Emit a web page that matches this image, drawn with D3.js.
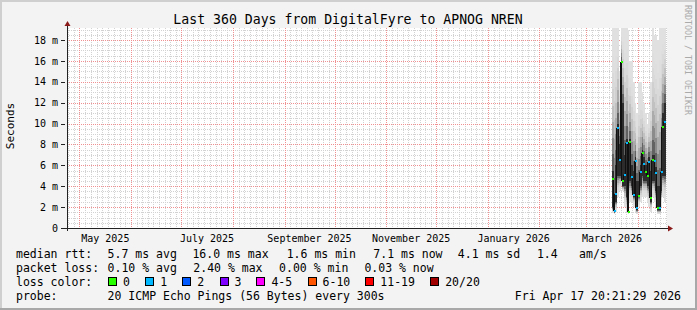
<!DOCTYPE html>
<html>
<head>
<meta charset="utf-8">
<script src="https://cdn.jsdelivr.net/npm/d3@7/dist/d3.min.js"></script>
<style>
body { margin: 0; background: #fff; }
text { font-family: "DejaVu Sans Mono", monospace; fill: #000; }
</style>
</head>
<body>
<svg id="chart" width="697" height="310"></svg>
<script>
// one sample every 25h, starting mid March 2026
let sampleStart = new Date(2026, 2, 16, 12);
let sampleHours = 25;

// median rtt (ms) and lost pings out of 20 for each sample
let medianRtt = [4.72, 1.65, 3.25, 9.6, 6.5, 15.9, 4.5, 5.1, 8.1, 1.56, 8.2, 4.9, 3.2, 6.45, 1.95, 3.1,
                 5.4, 7.15, 6.1, 5.4, 5.0, 6.35, 2.9, 6.5, 6.45, 5.3, 1.95, 1.95, 5.4, 9.7, 10.15];
let lossCount = [0, 1, 1, 1, 1, 0, 0, 1, 1, 0, 0, 1, 1, 1, 1, 0, 1, 0, 1, 0, 0, 1, 0, 0, 1, 1, 0, 1, 1, 0, 1];

// smoke: lowest ping, dense core low/high, highest ping (ms)
let pingMin  = [1.4, 1.3, 1.5, 3.0, 3.5, 4.0, 3.5, 2.0, 1.5, 1.3, 2.5, 2.5, 2.0, 1.5, 1.3, 2.0,
                2.5, 3.0, 3.0, 3.0, 2.5, 2.0, 1.5, 3.0, 2.5, 2.0, 1.3, 1.3, 2.0, 3.0, 2.5];
let darkLow  = [2.0, 1.5, 2.5, 5.0, 5.0, 6.0, 4.0, 4.0, 3.0, 1.5, 4.5, 4.0, 3.0, 3.0, 1.7, 3.0,
                4.0, 5.0, 4.5, 4.5, 4.0, 4.0, 2.5, 4.5, 4.5, 3.5, 1.7, 1.7, 3.5, 5.0, 5.0];
let darkHigh = [5.5, 3.0, 6.0, 10.0, 8.0, 16.0, 12.0, 7.0, 8.5, 5.0, 8.5, 6.0, 5.5, 6.8, 4.5, 4.5,
                6.0, 7.5, 6.8, 6.0, 5.8, 6.8, 5.5, 7.0, 7.0, 5.8, 4.0, 4.0, 8.0, 11.0, 12.0];
let pingMax  = [19.5, 19.5, 19.5, 19.5, 15.0, 19.5, 19.5, 19.5, 19.5, 19.0, 16.0, 16.0, 14.0, 12.0, 11.0, 14.0,
                14.0, 13.0, 12.0, 11.0, 10.0, 11.0, 14.0, 19.5, 18.5, 18.5, 18.0, 19.5, 19.5, 19.5, 19.5];

let yTicks = [0, 2, 4, 6, 8, 10, 12, 14, 16, 18];
let lossLabels = ['0', '1', '2', '3', '4-5', '6-10', '11-19', '20/20'];
let lossColors = ['#26ff00', '#00b8ff', '#0059ff', '#7e00ff', '#ff00ff', '#ff5500', '#ff0000', '#a10000'];

let rttStats = ['5.7 ms avg', '16.0 ms max', '1.6 ms min', '7.1 ms now', '4.1 ms sd', '1.4', 'am/s'];
let lossStats = ['0.10 % avg', '2.40 % max', '0.00 % min', '0.03 % now'];
let probeText = '20 ICMP Echo Pings (56 Bytes) every 300s';
let stampText = 'Fri Apr 17 20:21:29 2026';
let titleText = 'Last 360 Days from DigitalFyre to APNOG NREN';

// layout
let W = 697, H = 310;
let plotL = 67, plotR = 667, plotT = 28, plotB = 228;
let rttX = [107.6, 192.4, 286.7, 373.3, 457.8, 536.9, 579.1];
let lossX = [107.6, 193.3, 279.1, 364.4];
let swatchX = [108, 145.3, 182.2, 219.6, 256.4, 307.6, 365.3, 430.2];

let svg = d3.select('#chart');

let x = d3.scaleTime()
    .domain([new Date(2025, 3, 23, 12), new Date(2026, 3, 18, 12)])
    .range([plotL, plotR]);
let y = d3.scaleLinear().domain([0, 19.15]).range([plotB, plotT]);

// background + frame shading
svg.append('rect').attr('width', W).attr('height', H).attr('fill', '#f3f3f3');
svg.append('rect').attr('x', 0).attr('y', 0).attr('width', W).attr('height', 2).attr('fill', '#cfcfcf');
svg.append('rect').attr('x', 0).attr('y', 0).attr('width', 2).attr('height', H).attr('fill', '#cfcfcf');
svg.append('rect').attr('x', W - 2).attr('y', 0).attr('width', 2).attr('height', H).attr('fill', '#a8a8a8');
svg.append('rect').attr('x', 0).attr('y', H - 2).attr('width', W).attr('height', 2).attr('fill', '#a8a8a8');

svg.append('rect')
    .attr('x', plotL).attr('y', plotT)
    .attr('width', plotR - plotL).attr('height', plotB - plotT)
    .attr('fill', '#ffffff');

let grid = svg.append('g').attr('shape-rendering', 'crispEdges');

// minor grid
let minorY = d3.range(0.5, 19.15, 0.5).filter(v => v % 2 !== 0);
grid.selectAll('.minor-y').data(minorY).enter().append('line')
    .attr('x1', plotL).attr('x2', plotR)
    .attr('y1', d => Math.round(y(d)) + 0.5).attr('y2', d => Math.round(y(d)) + 0.5)
    .attr('stroke', '#d2d2d2').attr('stroke-dasharray', '1,1');

let months = d3.timeMonth.range(new Date(2025, 3, 1), new Date(2026, 4, 1));
let minorX = [];
months.forEach(m => {
    let next = d3.timeMonth.offset(m, 1);
    for (let k = 1; k < 9; k++) {
        minorX.push(new Date(+m + (next - m) * k / 9));
    }
});
minorX = minorX.filter(d => d > x.domain()[0] && d < x.domain()[1]);
grid.selectAll('.minor-x').data(minorX).enter().append('line')
    .attr('y1', plotT).attr('y2', plotB)
    .attr('x1', d => Math.round(x(d)) + 0.5).attr('x2', d => Math.round(x(d)) + 0.5)
    .attr('stroke', '#d2d2d2').attr('stroke-dasharray', '1,1');

// major grid
grid.selectAll('.major-y').data(yTicks.filter(v => v > 0)).enter().append('line')
    .attr('x1', plotL).attr('x2', plotR)
    .attr('y1', d => Math.round(y(d)) + 0.5).attr('y2', d => Math.round(y(d)) + 0.5)
    .attr('stroke', '#f09090').attr('stroke-dasharray', '1,1');

let majorX = months.filter(d => d > x.domain()[0] && d < x.domain()[1]);
grid.selectAll('.major-x').data(majorX).enter().append('line')
    .attr('y1', plotT).attr('y2', plotB)
    .attr('x1', d => Math.round(x(d)) + 0.5).attr('x2', d => Math.round(x(d)) + 0.5)
    .attr('stroke', '#f09090').attr('stroke-dasharray', '1,1');

// smoke
let samples = medianRtt.map((m, i) => {
    let t0 = d3.timeHour.offset(sampleStart, i * sampleHours);
    let t1 = d3.timeHour.offset(sampleStart, (i + 1) * sampleHours);
    return {
        t0: t0, t1: t1, median: m, loss: lossCount[i],
        min: pingMin[i], lo: darkLow[i], hi: darkHigh[i], max: pingMax[i]
    };
});

let smoke = svg.append('g').attr('shape-rendering', 'crispEdges');
let bands = d3.range(10);
samples.forEach(s => {
    let x0 = Math.round(x(s.t0));
    let x1 = Math.round(x(s.t1));
    bands.forEach(k => {
        let f = k / 9;
        let lo = s.min + (s.lo - s.min) * f;
        let hi = s.max + (s.hi - s.max) * f;
        let g = Math.round(224 - 180 * Math.pow(f, 3));
        let top = Math.max(y(Math.min(hi, 19.15)), plotT);
        smoke.append('rect')
            .attr('x', x0).attr('width', Math.max(x1 - x0, 1))
            .attr('y', top).attr('height', Math.max(y(lo) - top, 0))
            .attr('fill', d3.rgb(g, g, g));
    });
});

// median steps: black risers between samples, coloured treads by loss
let lossBucket = (n) => {
    if (n <= 3) return n;
    if (n <= 5) return 4;
    if (n <= 10) return 5;
    if (n <= 19) return 6;
    return 7;
};
let median = svg.append('g').attr('shape-rendering', 'crispEdges');
median.selectAll('.riser').data(samples.slice(1)).enter().append('rect')
    .attr('x', d => Math.round(x(d.t0)) - 1)
    .attr('width', 1)
    .attr('y', (d, i) => Math.min(y(d.median), y(samples[i].median)))
    .attr('height', (d, i) => Math.abs(y(d.median) - y(samples[i].median)))
    .attr('fill', '#111');
median.selectAll('.tread').data(samples).enter().append('rect')
    .attr('x', d => Math.round(x(d.t0)))
    .attr('width', d => Math.max(Math.round(x(d.t1)) - Math.round(x(d.t0)), 2))
    .attr('y', d => Math.round(y(d.median)) - 1)
    .attr('height', 2)
    .attr('fill', d => lossColors[lossBucket(d.loss)]);

// axes
let axisG = svg.append('g').attr('shape-rendering', 'crispEdges');
axisG.append('line')
    .attr('x1', plotL + 0.5).attr('x2', plotL + 0.5)
    .attr('y1', plotB + 3).attr('y2', plotT - 3)
    .attr('stroke', '#222');
axisG.append('line')
    .attr('x1', plotL - 5).attr('x2', plotR + 4)
    .attr('y1', plotB + 0.5).attr('y2', plotB + 0.5)
    .attr('stroke', '#222');
svg.append('path')
    .attr('d', `M${plotL - 2.5},${plotT - 2}L${plotL + 3.5},${plotT - 2}L${plotL + 0.5},${plotT - 7}Z`)
    .attr('fill', '#8b1a1a');
svg.append('path')
    .attr('d', `M${plotR + 1},${plotB - 2.5}L${plotR + 1},${plotB + 3.5}L${plotR + 6},${plotB + 0.5}Z`)
    .attr('fill', '#8b1a1a');

let yAxis = d3.axisLeft(y)
    .tickValues(yTicks)
    .tickSize(4)
    .tickPadding(3)
    .tickFormat(d => d === 0 ? '0' : d + ' m');
let yAxisG = svg.append('g')
    .attr('transform', `translate(${plotL - 2},0)`)
    .call(yAxis);
yAxisG.select('.domain').remove();
yAxisG.selectAll('line').attr('stroke', '#222').attr('shape-rendering', 'crispEdges');
yAxisG.selectAll('text')
    .attr('font-family', 'DejaVu Sans Mono')
    .attr('font-size', 10)
    .attr('fill', '#000');

// month labels, every other month, centred in the month
let labelMonths = months.filter(m => m.getMonth() % 2 === 0);
svg.append('g').selectAll('text').data(labelMonths).enter().append('text')
    .attr('x', d => (x(d) + x(d3.timeMonth.offset(d, 1))) / 2)
    .attr('y', plotB + 13.5)
    .attr('text-anchor', 'middle')
    .attr('font-size', 10)
    .text(d => d3.timeFormat('%B %Y')(d));

// titles
svg.append('text')
    .attr('x', 348).attr('y', 24)
    .attr('text-anchor', 'middle')
    .attr('font-size', 13.2)
    .text(titleText);

svg.append('text')
    .attr('transform', 'translate(14,126) rotate(-90)')
    .attr('text-anchor', 'middle')
    .attr('font-size', 11)
    .text('Seconds');

svg.append('text')
    .attr('transform', 'translate(685,5) rotate(90)')
    .attr('font-size', 8.3)
    .style('fill', '#aaaaaa')
    .text('RRDTOOL / TOBI OETIKER');

// legend
let legend = svg.append('g').attr('font-size', 11.5).attr('xml:space', 'preserve');
let rowY = [258, 272, 286, 300];

legend.append('text').attr('x', 16).attr('y', rowY[0]).text('median rtt:');
rttStats.forEach((s, i) => {
    legend.append('text').attr('x', rttX[i]).attr('y', rowY[0]).text(s);
});

legend.append('text').attr('x', 16).attr('y', rowY[1]).text('packet loss:');
lossStats.forEach((s, i) => {
    legend.append('text').attr('x', lossX[i]).attr('y', rowY[1]).text(s);
});

legend.append('text').attr('x', 16).attr('y', rowY[2]).text('loss color:');
lossLabels.forEach((s, i) => {
    legend.append('rect')
        .attr('x', swatchX[i] + 0.5).attr('y', rowY[2] - 8.5)
        .attr('width', 8).attr('height', 8)
        .attr('fill', lossColors[i])
        .attr('stroke', '#000').attr('stroke-width', 1)
        .attr('shape-rendering', 'crispEdges');
    legend.append('text').attr('x', swatchX[i] + 15).attr('y', rowY[2]).text(s);
});

legend.append('text').attr('x', 16).attr('y', rowY[3]).text('probe:');
legend.append('text').attr('x', rttX[0]).attr('y', rowY[3]).text(probeText);
legend.append('text').attr('x', 681).attr('y', rowY[3]).attr('text-anchor', 'end').text(stampText);
</script>
</body>
</html>
